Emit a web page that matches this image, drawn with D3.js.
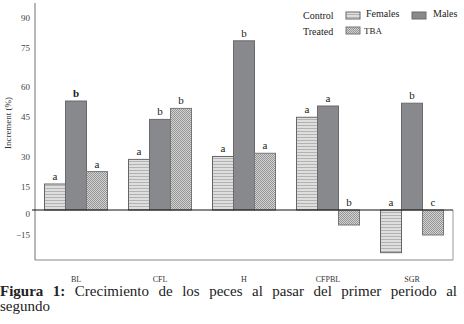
<!DOCTYPE html>
<html><head><meta charset="utf-8">
<script src="https://cdn.jsdelivr.net/npm/d3@7"></script>
<style>
html,body{margin:0;padding:0;background:#fff;}
svg{display:block;}
svg text{font-family:"Liberation Serif","DejaVu Serif",serif;}
</style></head>
<body><svg id="c" width="464" height="324"></svg>
<script>
const categories = ["BL","CFL","H","CFPBL","SGR"];
const seriesNames = ["Females","Males","TBA"];
const females = [16.5, 28.8, 30.2, 44.9, -25.6];
const males   = [53, 44.1, 78.6, 50.5, 51.9];
const tba     = [22.7, 49.3, 31.4, -9, -15];
const lettersF = ["a","a","a","a","a"];
const lettersM = ["b","b","b","a","b"];
const lettersT = ["a","b","a","b","c"];
const tickValues = [-15, 0, 15, 30, 45, 60, 75, 90];

const FONT = "Liberation Serif, DejaVu Serif, serif";
const svg = d3.select("#c");
const defs = svg.append("defs");
const pS = defs.append("pattern").attr("id","stripes").attr("patternUnits","userSpaceOnUse").attr("width",4).attr("height",3);
pS.append("rect").attr("width",4).attr("height",3).attr("fill","#dedede");
pS.append("rect").attr("y",2).attr("width",4).attr("height",1).attr("fill","#b2b2b2");
const pC = defs.append("pattern").attr("id","checker").attr("patternUnits","userSpaceOnUse").attr("width",2).attr("height",2);
pC.append("rect").attr("width",2).attr("height",2).attr("fill","#d2d2d2");
pC.append("rect").attr("width",1).attr("height",1).attr("fill","#969696");
pC.append("rect").attr("x",1).attr("y",1).attr("width",1).attr("height",1).attr("fill","#969696");

const fills = {Females:"url(#stripes)", Males:"#88898d", TBA:"url(#checker)"};
const strokes = {Females:"#666", Males:"#6a6a6e", TBA:"#777"};

// y scale (polylinear to match the printed axis)
const y = d3.scaleLinear()
  .domain([-15, 0, 15, 30, 45, 60, 75, 90])
  .range([235, 210, 187, 157, 117, 87, 48, 18]);

const x = d3.scaleBand().domain(categories).range([35, 453]).paddingInner(0.25).paddingOuter(0.113);
const xs = d3.scaleBand().domain(seriesNames).range([0, x.bandwidth()]).padding(0);

const data = [];
categories.forEach((c,i)=>{
  data.push({c, s:"Females", v:females[i], l:lettersF[i]});
  data.push({c, s:"Males", v:males[i], l:lettersM[i]});
  data.push({c, s:"TBA", v:tba[i], l:lettersT[i]});
});

// frame lines
const g = svg.append("g");
g.append("line").attr("x1",35).attr("x2",35).attr("y1",3).attr("y2",260).attr("stroke","#888").attr("stroke-width",1.2);
g.append("line").attr("x1",35).attr("x2",453).attr("y1",260).attr("y2",260).attr("stroke","#888").attr("stroke-width",1.2);
g.append("line").attr("x1",453).attr("x2",453).attr("y1",y(0)).attr("y2",260).attr("stroke","#999").attr("stroke-width",1);

// y axis labels
const yAxis = d3.axisLeft(y).tickValues(tickValues).tickSize(0).tickPadding(5).tickFormat(d3.format("d"));
const ya = svg.append("g").attr("transform","translate(35,0)").call(yAxis);
ya.select(".domain").remove();
ya.attr("font-family", FONT);
ya.selectAll("text").attr("font-family",FONT).attr("font-size",9).attr("fill","#444");
ya.selectAll(".tick").filter(d=>d===0).select("text").attr("dy","0.7em");

// bars
svg.append("g").selectAll("rect").data(data).join("rect")
  .attr("x", d=>x(d.c)+xs(d.s))
  .attr("width", xs.bandwidth())
  .attr("y", d=>Math.min(y(d.v), y(0)))
  .attr("height", d=>Math.abs(y(d.v)-y(0)))
  .attr("fill", d=>fills[d.s])
  .attr("stroke", d=>strokes[d.s])
  .attr("stroke-width",1);

// letters
svg.append("g").selectAll("text").data(data).join("text")
  .attr("x", d=>x(d.c)+xs(d.s)+xs.bandwidth()/2)
  .attr("y", d=> d.v>=0 ? y(d.v)-4 : y(0)-4)
  .attr("text-anchor","middle")
  .attr("font-family",FONT)
  .attr("font-size",11)
  .attr("font-weight", (d,i)=> i===1 ? "bold" : "normal")
  .attr("fill","#222")
  .text(d=>d.l);

// zero line
svg.append("line").attr("x1",32).attr("x2",453).attr("y1",y(0)).attr("y2",y(0)).attr("stroke","#111").attr("stroke-width",1.2);

// x category labels
const xAxis = d3.axisBottom(x).tickSize(0).tickPadding(0);
const xa = svg.append("g").attr("transform","translate(0,276)").call(xAxis);
xa.select(".domain").remove();
xa.attr("font-family", FONT);
xa.selectAll("text").attr("font-family",FONT).attr("font-size",8).attr("fill","#333");

// y title
svg.append("text").attr("transform","translate(11,123) rotate(-90)").attr("text-anchor","middle")
  .attr("font-family",FONT).attr("font-size",9).attr("fill","#333").text("Increment (%)");

// legend
const lg = svg.append("g").attr("font-size",10).attr("fill","#222").attr("font-family",FONT);
lg.append("text").attr("x",303).attr("y",19).text("Control");
lg.append("text").attr("x",303).attr("y",35).text("Treated");
const legendItems = [
  {s:"Females", x:346, y:12, tx:366, ty:17},
  {s:"Males", x:412, y:12, tx:433, ty:17},
  {s:"TBA", x:346, y:27, tx:364, ty:34}
];
legendItems.forEach(it=>{
  lg.append("rect").attr("x",it.x).attr("y",it.y).attr("width",14).attr("height",7)
    .attr("fill",fills[it.s]).attr("stroke",strokes[it.s]);
  lg.append("text").attr("x",it.tx).attr("y",it.ty).attr("font-size", it.s==="TBA"?9:10).text(it.s);
});

// caption (justified with word spacing)
const line1a = "Figura 1:";
const line1b = " Crecimiento de los peces al pasar del primer periodo al";
const cap = svg.append("text").attr("x",0).attr("y",296).attr("font-size",15).attr("fill","#222").attr("font-family",FONT);
cap.append("tspan").attr("font-weight","bold").text(line1a);
cap.append("tspan").text(line1b);
const w = cap.node().getComputedTextLength();
const nSpaces = (line1a + line1b).split(" ").length - 1;
cap.attr("word-spacing", Math.max(0,(457 - w)/nSpaces));
svg.append("text").attr("x",0).attr("y",311).attr("font-size",15).attr("fill","#222").attr("font-family",FONT).text("segundo");
</script></body></html>
